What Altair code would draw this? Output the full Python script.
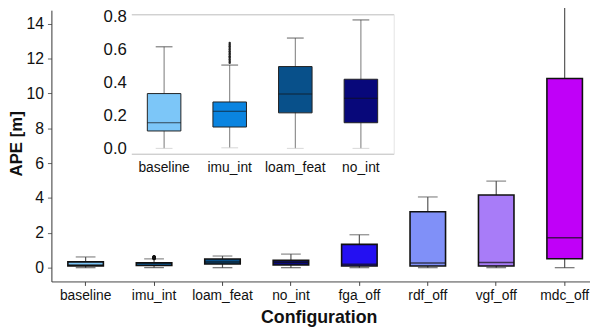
import altair as alt
import pandas as pd

# ---------------- data ----------------
categories = ["baseline", "imu_int", "loam_feat", "no_int",
              "fga_off", "rdf_off", "vgf_off", "mdc_off"]
colors = ["#7cc6f8", "#0a84e0", "#08508a", "#08087a",
          "#2410f2", "#8090f8", "#a87cf8", "#c000f8"]
whisker_low = [0.0, 0.004, 0.0, 0.0, 0.0, 0.0, 0.0, 0.0]
q1 = [0.106, 0.13, 0.216, 0.156, 0.10, 0.10, 0.10, 0.51]
median = [0.156, 0.226, 0.33, 0.305, 0.20, 0.27, 0.30, 1.72]
q3 = [0.333, 0.282, 0.497, 0.42, 1.34, 3.21, 4.17, 10.86]
whisker_high = [0.617, 0.506, 0.67, 0.78, 1.89, 4.06, 4.97, 15.2]
imu_outliers = [0.52, 0.53, 0.54, 0.55, 0.56, 0.57, 0.58, 0.59,
                0.60, 0.61, 0.62, 0.63, 0.64]
inset_categories = categories[:4]
y_ticks = [0, 2, 4, 6, 8, 10, 12, 14]
inset_ticks = [0.0, 0.2, 0.4, 0.6, 0.8]

df = pd.DataFrame({"cat": categories, "lo": whisker_low, "q1": q1,
                   "med": median, "q3": q3, "hi": whisker_high})
df_in = df[df["cat"].isin(inset_categories)]
out = pd.DataFrame({"cat": ["imu_int"] * len(imu_outliers), "v": imu_outliers})

FONT = "Liberation Sans"

color = alt.Color("cat:N", scale=alt.Scale(domain=categories, range=colors), legend=None)

# ---------------- main chart ----------------
xs = alt.Scale(domain=categories, range=[0, 555], paddingInner=0, paddingOuter=0)
ys = alt.Scale(domain=[-0.79, 14.78], nice=False, zero=False)
x_axis = alt.Axis(title="Configuration", orient="bottom", labelFontSize=14, labelAngle=0,
                  tickSize=4, labelPadding=3, domainColor="#444", tickColor="#444",
                  labelColor="#111", titleColor="#111", titleFontSize=18,
                  titleFontWeight="bold", titleX=271, titleY=42,
                  titleBaseline="alphabetic", grid=False)
y_axis = alt.Axis(title="APE [m]", orient="left", values=y_ticks, labelFontSize=16,
                  tickSize=4, labelPadding=4, domainColor="#333", tickColor="#666",
                  labelColor="#111", titleColor="#111", titleFontSize=17,
                  titleFontWeight="bold", titleAngle=270, titleX=-35, titleY=135,
                  titleAlign="center", titleBaseline="middle", grid=False)
X = alt.X("cat:N", scale=xs, axis=x_axis)

base = alt.Chart(df)
m_whisk = base.mark_rule(color="#555", strokeWidth=1.2).encode(
    x=X, y=alt.Y("lo:Q", scale=ys, axis=y_axis), y2="hi:Q")
m_locap = base.mark_tick(color="#333", size=20, thickness=1.2).encode(
    x=X, y=alt.Y("lo:Q", scale=ys, axis=y_axis))
m_hicap = base.mark_tick(color="#555", size=20, thickness=1.2).encode(
    x=X, y=alt.Y("hi:Q", scale=ys, axis=y_axis))
m_box = base.mark_bar(size=36, stroke="#111", strokeWidth=1.6).encode(
    x=X, y=alt.Y("q1:Q", scale=ys, axis=y_axis), y2="q3:Q", color=color)
m_med = base.mark_tick(color="#111", size=36, thickness=1.5).encode(
    x=X, y=alt.Y("med:Q", scale=ys, axis=y_axis))
m_out = alt.Chart(out).mark_circle(color="#111", size=10, opacity=1).encode(
    x=X, y=alt.Y("v:Q", scale=ys, axis=y_axis))

main_group = alt.layer(m_whisk, m_locap, m_hicap, m_box, m_med, m_out)

# ---------------- inset ----------------
ixs = alt.Scale(domain=inset_categories, range=[81, 347], paddingInner=0, paddingOuter=0)
iys = alt.Scale(domain=[-0.032, 0.814], range=[145.5, 4.2], nice=False, zero=False)
ix_axis = alt.Axis(title=None, orient="bottom", offset=-129.5, labelFontSize=14, labelAngle=0,
                   ticks=False, labelPadding=7, domainColor="#bbb", labelColor="#111",
                   grid=False)
iy_axis = alt.Axis(title=None, orient="left", offset=-81, values=inset_ticks, format=".1f",
                   labelFontSize=17, domain=False, ticks=False, labelPadding=5,
                   labelColor="#111", grid=False)
ix_axis2 = alt.Axis(title=None, orient="top", offset=-4.2, labels=False, ticks=False,
                    domainColor="#bbb", grid=False)
iy_axis2 = alt.Axis(title=None, orient="right", offset=-199, labels=False, ticks=False,
                    domainColor="#e4e4e4", grid=False)
IX = alt.X("cat:N", scale=ixs, axis=ix_axis)

ibase = alt.Chart(df_in)
i_whisk = ibase.mark_rule(color="#777", strokeWidth=1).encode(
    x=IX, y=alt.Y("lo:Q", scale=iys, axis=iy_axis), y2="hi:Q")
i_locap = ibase.mark_tick(color="#cfcfcf", size=17, thickness=1.2).encode(
    x=IX, y=alt.Y("lo:Q", scale=iys, axis=iy_axis))
i_box = ibase.mark_bar(size=34, stroke="#222", strokeWidth=1).encode(
    x=IX, y=alt.Y("q1:Q", scale=iys, axis=iy_axis), y2="q3:Q", color=color)
i_med = ibase.mark_tick(color="#111", size=34, thickness=1).encode(
    x=IX, y=alt.Y("med:Q", scale=iys, axis=iy_axis))
i_out = alt.Chart(out).mark_circle(color="#111", size=6, opacity=0.9).encode(
    x=IX, y=alt.Y("v:Q", scale=iys, axis=iy_axis))
i_core = alt.layer(i_whisk, i_locap, i_box, i_med, i_out)

i_hicap = ibase.mark_tick(color="#444", size=17, thickness=1.2).encode(
    x=alt.X("cat:N", scale=ixs, axis=ix_axis2),
    y=alt.Y("hi:Q", scale=iys, axis=iy_axis2))

inset_group = alt.layer(i_core, i_hicap).resolve_axis(x="independent", y="independent")

chart = alt.layer(main_group, inset_group).resolve_scale(
    x="independent", y="independent"
).properties(
    width=546, height=275,
    autosize=alt.AutoSizeParams(type="none"),
    padding={"left": 44, "top": 0, "right": 0, "bottom": 47},
).configure(font=FONT).configure_view(stroke=None)

chart.save("out.html", embed_options={"renderer": "svg", "actions": False})
